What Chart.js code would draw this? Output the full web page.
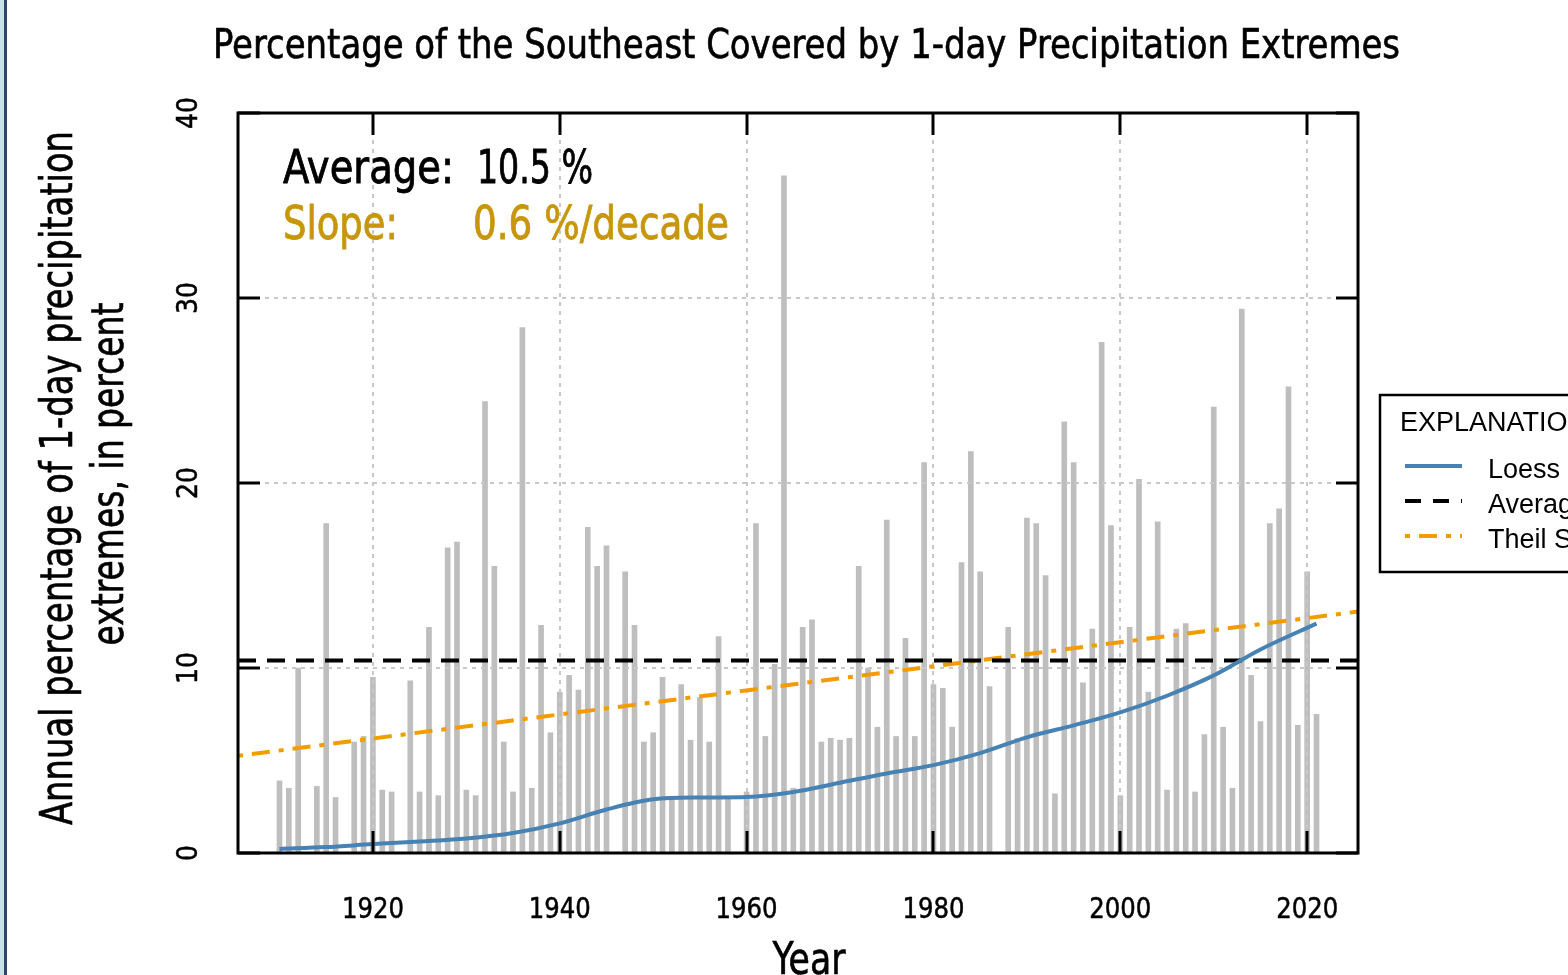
<!DOCTYPE html>
<html>
<head>
<meta charset="utf-8">
<script src="https://cdn.jsdelivr.net/npm/chart.js@4.4.1/dist/chart.umd.min.js"></script>
<style>
html,body{margin:0;padding:0;background:#fff;overflow:hidden}
#wrap{width:1568px;height:975px;position:relative}
</style>
</head>
<body>
<div id="wrap"><canvas id="c"></canvas></div>
<script>
// ---------------- data ----------------
const years = [
  1910,1911,1912,1913,1914,1915,1916,1917,1918,1919,
  1920,1921,1922,1923,1924,1925,1926,1927,1928,1929,
  1930,1931,1932,1933,1934,1935,1936,1937,1938,1939,
  1940,1941,1942,1943,1944,1945,1946,1947,1948,1949,
  1950,1951,1952,1953,1954,1955,1956,1957,1958,1959,
  1960,1961,1962,1963,1964,1965,1966,1967,1968,1969,
  1970,1971,1972,1973,1974,1975,1976,1977,1978,1979,
  1980,1981,1982,1983,1984,1985,1986,1987,1988,1989,
  1990,1991,1992,1993,1994,1995,1996,1997,1998,1999,
  2000,2001,2002,2003,2004,2005,2006,2007,2008,2009,
  2010,2011,2012,2013,2014,2015,2016,2017,2018,2019,
  2020,2021
];
const coverage = [
  3.9, 3.5, 10.0, null, 3.6, 17.8, 3.0, null, 6.0, 6.3,
  9.5, 3.4, 3.3, null, 9.3, 3.3, 12.2, 3.1, 16.5, 16.8,
  3.4, 3.1, 24.4, 15.5, 6.0, 3.3, 28.4, 3.5, 12.3, 6.5,
  8.7, 9.6, 8.8, 17.6, 15.5, 16.6, null, 15.2, 12.3, 6.0,
  6.5, 9.5, 2.9, 9.1, 6.1, 8.4, 6.0, 11.7, 2.9, null,
  3.3, 17.8, 6.3, 10.2, 36.6, 3.5, 12.2, 12.6, 6.0, 6.2,
  6.1, 6.2, 15.5, 10.0, 6.8, 18.0, 6.3, 11.6, 6.3, 21.1,
  9.1, 8.9, 6.8, 15.7, 21.7, 15.2, 9.0, null, 12.2, 6.2,
  18.1, 17.8, 15.0, 3.2, 23.3, 21.1, 9.2, 12.1, 27.6, 17.7,
  3.1, 12.2, 20.2, 8.7, 17.9, 3.4, 12.1, 12.4, 3.3, 6.4,
  24.1, 6.8, 3.5, 29.4, 9.6, 7.1, 17.8, 18.6, 25.2, 6.9,
  15.2, 7.5
];
const loessYears  = [1910,1915,1920,1925,1930,1935,1940,1945,1950,1955,1960,1965,1970,1975,1980,1985,1990,1995,2000,2005,2010,2015,2021];
const loessValues = [0.22,0.32,0.48,0.62,0.78,1.08,1.6,2.35,2.9,3.0,3.03,3.3,3.8,4.3,4.75,5.4,6.25,6.9,7.6,8.5,9.6,11.0,12.4];
const averageValue = 10.4;
const xRange = [1905.56, 2025.44];
const trendYears  = [1905.56, 2025.44];
const trendValues = [5.25, 13.05];
const xTickYears = [1920,1940,1960,1980,2000,2020];
const yTickValues = [0,10,20,30,40];
const yGridValues = [10,20,30];

const titleText = "Percentage of the Southeast Covered by 1-day Precipitation Extremes";
const yTitleLines = ["Annual percentage of 1-day precipitation", "extremes, in percent"];
const xTitleText = "Year";
const avgLabel = ["Average:", "10.5 %"];
const slopeLabel = ["Slope:", "0.6 %/decade"];
const legendTitle = "EXPLANATION";
const legendItems = ["Loess", "Average", "Theil Sen"];

// ---------------- styles ----------------
const COND = '"Liberation Sans Narrow","DejaVu Sans Condensed","Liberation Sans",Arial,sans-serif';
const SANS = '"Liberation Sans",Arial,sans-serif';
const BAR = '#bebebe', LOESS = '#4682b4', TREND = '#f39c00', GOLD = '#c8960c';
const AVG_DASH = [18, 11], TREND_DASH = [5, 9, 18, 9];
const LW = 4;

function txt(ctx, s, x, y, o) {
  ctx.save();
  ctx.font = o.font;
  ctx.fillStyle = o.color || '#000';
  ctx.textBaseline = 'alphabetic';
  ctx.textAlign = 'left';
  const w = ctx.measureText(s).width;
  const sx = o.width ? o.width / w : 1;
  ctx.translate(x, y);
  if (o.rotate) ctx.rotate(o.rotate);
  ctx.scale(sx, 1);
  let dx = 0;
  if (o.align === 'center') dx = -w / 2;
  else if (o.align === 'right') dx = -w;
  if (o.stroke) { ctx.strokeStyle = o.color || '#000'; ctx.lineWidth = o.stroke; ctx.strokeText(s, dx, 0); }
  ctx.fillText(s, dx, 0);
  ctx.restore();
}

const decor = {
  id: 'decor',
  beforeDraw(chart) {
    const ctx = chart.ctx;
    ctx.save();
    ctx.fillStyle = '#fff';
    ctx.fillRect(0, 0, chart.width, chart.height);
    ctx.fillStyle = '#c6e3ea';
    ctx.fillRect(0, 0, 4, chart.height);
    ctx.fillStyle = '#33466a';
    ctx.fillRect(4, 0, 3, chart.height);
    ctx.restore();
  },
  afterDatasetDraw(chart, args) {
    if (args.index !== 0) return;
    const {ctx, chartArea: a, scales: {x, y}} = chart;
    ctx.save();
    ctx.beginPath(); ctx.rect(a.left, a.top, a.right - a.left, a.bottom - a.top); ctx.clip();
    ctx.strokeStyle = '#c8c8c8';
    ctx.lineWidth = 2;
    ctx.setLineDash([4, 5]);
    xTickYears.forEach(v => {
      const px = Math.round(x.getPixelForValue(v));
      ctx.beginPath(); ctx.moveTo(px, a.top); ctx.lineTo(px, a.bottom); ctx.stroke();
    });
    yGridValues.forEach(v => {
      const py = Math.round(y.getPixelForValue(v));
      ctx.beginPath(); ctx.moveTo(a.left, py); ctx.lineTo(a.right, py); ctx.stroke();
    });
    ctx.restore();
  },
  afterDraw(chart) {
    const {ctx, chartArea: a, scales: {x, y}} = chart;
    ctx.save();
    ctx.strokeStyle = '#000';
    ctx.lineWidth = 3;
    ctx.strokeRect(a.left, a.top, a.right - a.left, a.bottom - a.top);
    const TL = 22;
    xTickYears.forEach(v => {
      const px = Math.round(x.getPixelForValue(v));
      ctx.beginPath(); ctx.moveTo(px, a.bottom); ctx.lineTo(px, a.bottom - TL); ctx.stroke();
      ctx.beginPath(); ctx.moveTo(px, a.top); ctx.lineTo(px, a.top + TL); ctx.stroke();
    });
    yTickValues.forEach(v => {
      const py = Math.round(y.getPixelForValue(v));
      ctx.beginPath(); ctx.moveTo(a.left, py); ctx.lineTo(a.left + TL, py); ctx.stroke();
      ctx.beginPath(); ctx.moveTo(a.right, py); ctx.lineTo(a.right - TL, py); ctx.stroke();
    });
    ctx.restore();

    xTickYears.forEach(v => {
      txt(ctx, String(v), x.getPixelForValue(v), 918, {font: '29px ' + COND, width: 62, align: 'center', stroke: 0.5});
    });
    yTickValues.forEach(v => {
      const s = String(v);
      txt(ctx, s, 197, y.getPixelForValue(v), {font: '28px ' + COND, width: 16 * s.length, align: 'center', rotate: -Math.PI / 2, stroke: 0.5});
    });

    txt(ctx, titleText, 213, 58, {font: '40px ' + COND, width: 1187, stroke: 0.6});
    txt(ctx, yTitleLines[0], 72, 478, {font: '44px ' + COND, width: 694, align: 'center', rotate: -Math.PI / 2, stroke: 0.6});
    txt(ctx, yTitleLines[1], 123, 474, {font: '44px ' + COND, width: 343, align: 'center', rotate: -Math.PI / 2, stroke: 0.6});
    txt(ctx, xTitleText, 809, 974, {font: '44px ' + COND, width: 73, align: 'center', stroke: 0.6});

    txt(ctx, avgLabel[0], 283, 183, {font: '47px ' + COND, width: 171, stroke: 0.8});
    txt(ctx, avgLabel[1], 477, 183, {font: '47px ' + COND, width: 116, stroke: 0.8});
    txt(ctx, slopeLabel[0], 283, 239, {font: '47px ' + COND, width: 115, color: GOLD, stroke: 0.8});
    txt(ctx, slopeLabel[1], 473, 239, {font: '47px ' + COND, width: 256, color: GOLD, stroke: 0.8});

    ctx.save();
    ctx.strokeStyle = '#000';
    ctx.lineWidth = 2.5;
    ctx.strokeRect(1380, 395, 260, 177);
    ctx.restore();
    txt(ctx, legendTitle, 1400, 431, {font: '27px ' + SANS});
    const rows = [466, 501, 536];
    const styles = [
      {c: LOESS, d: []},
      {c: '#000', d: [16, 12]},
      {c: TREND, d: [5, 9, 18, 9]}
    ];
    rows.forEach((ry, i) => {
      ctx.save();
      ctx.strokeStyle = styles[i].c;
      ctx.lineWidth = LW;
      ctx.setLineDash(styles[i].d);
      ctx.beginPath(); ctx.moveTo(1405, ry); ctx.lineTo(1462, ry); ctx.stroke();
      ctx.restore();
      txt(ctx, legendItems[i], 1488, ry + 12, {font: '27px ' + SANS});
    });
  }
};

const barData = years.map((yr, i) => ({x: yr, y: coverage[i]})).filter(d => d.y !== null);
const loessData = loessYears.map((yr, i) => ({x: yr, y: loessValues[i]}));
const avgData = xRange.map(yr => ({x: yr, y: averageValue}));
const trendData = trendYears.map((yr, i) => ({x: yr, y: trendValues[i]}));

new Chart(document.getElementById('c'), {
  type: 'bar',
  data: {
    datasets: [
      {type: 'bar', data: barData, backgroundColor: BAR, borderWidth: 0, barThickness: 5, order: 10},
      {type: 'line', data: trendData, borderColor: TREND, borderWidth: LW, borderDash: TREND_DASH, pointRadius: 0, fill: false, order: 3},
      {type: 'line', data: avgData, borderColor: '#000', borderWidth: LW, borderDash: AVG_DASH, pointRadius: 0, fill: false, order: 2},
      {type: 'line', data: loessData, borderColor: LOESS, borderWidth: LW, pointRadius: 0, fill: false, cubicInterpolationMode: 'monotone', order: 1}
    ]
  },
  options: {
    responsive: true,
    maintainAspectRatio: false,
    animation: false,
    events: [],
    layout: {padding: {left: 238, right: 210, top: 113, bottom: 122}},
    plugins: {legend: {display: false}, tooltip: {enabled: false}, title: {display: false}},
    scales: {
      x: {type: 'linear', min: xRange[0], max: xRange[1], display: false, offset: false},
      y: {type: 'linear', min: 0, max: 40, display: false}
    }
  },
  plugins: [decor]
});
</script>
</body>
</html>
